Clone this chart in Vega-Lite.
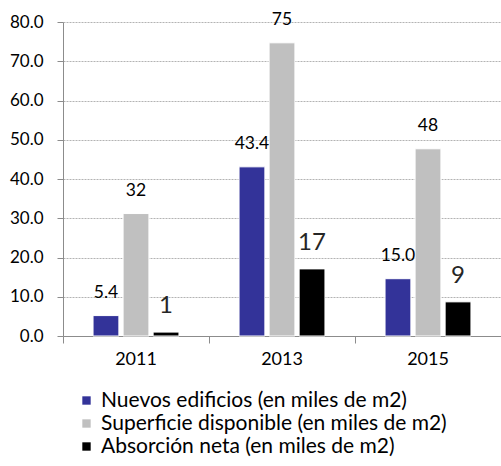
{
  "$schema": "https://vega.github.io/schema/vega-lite/v6.json",
  "width": 438,
  "height": 314,
  "autosize": "none",
  "padding": {"left": 63, "top": 22, "right": 0, "bottom": 130},
  "background": "white",
  "config": {
    "font": "Lato",
    "view": {"stroke": null}
  },
  "data": {
    "values": [
      {"year": "2011", "serie": "Nuevos edificios (en miles de m2)", "value": 5.2, "label": "5.4", "big": false},
      {"year": "2011", "serie": "Superficie disponible (en miles de m2)", "value": 31.2, "label": "32", "big": false},
      {"year": "2011", "serie": "Absorción neta (en miles de m2)", "value": 1.0, "label": "1", "big": true},
      {"year": "2013", "serie": "Nuevos edificios (en miles de m2)", "value": 43.1, "label": "43.4", "big": false},
      {"year": "2013", "serie": "Superficie disponible (en miles de m2)", "value": 74.7, "label": "75", "big": false},
      {"year": "2013", "serie": "Absorción neta (en miles de m2)", "value": 17.1, "label": "17", "big": true},
      {"year": "2015", "serie": "Nuevos edificios (en miles de m2)", "value": 14.6, "label": "15.0", "big": false},
      {"year": "2015", "serie": "Superficie disponible (en miles de m2)", "value": 47.7, "label": "48", "big": false},
      {"year": "2015", "serie": "Absorción neta (en miles de m2)", "value": 8.7, "label": "9", "big": true}
    ]
  },
  "encoding": {
    "x": {
      "field": "year",
      "type": "nominal",
      "scale": {"paddingInner": 0, "paddingOuter": 0},
      "axis": {
        "title": null,
        "labelAngle": 0,
        "labelFontSize": 18,
        "labelColor": "#000000",
        "labelPadding": 7,
        "tickSize": 7,
        "bandPosition": 0,
        "domainColor": "#8c8c8c",
        "tickColor": "#8c8c8c",
        "grid": false
      }
    },
    "xOffset": {
      "field": "serie",
      "type": "nominal",
      "sort": ["Nuevos edificios (en miles de m2)", "Superficie disponible (en miles de m2)", "Absorción neta (en miles de m2)"],
      "scale": {"paddingInner": 0.14, "paddingOuter": 1.45}
    },
    "y": {
      "field": "value",
      "type": "quantitative",
      "scale": {"domain": [0, 80], "nice": false},
      "axis": {
        "title": null,
        "values": [0, 10, 20, 30, 40, 50, 60, 70, 80],
        "format": ".1f",
        "labelFontSize": 17,
        "labelColor": "#000000",
        "labelPadding": 14,
        "tickSize": 6,
        "domainColor": "#8c8c8c",
        "tickColor": "#8c8c8c",
        "gridColor": "#a0a0a0",
        "gridDash": [2, 1],
        "gridWidth": 0.8
      }
    }
  },
  "layer": [
    {
      "mark": {"type": "bar", "stroke": "white", "strokeWidth": 1},
      "encoding": {
        "color": {
          "field": "serie",
          "type": "nominal",
          "scale": {
            "domain": ["Nuevos edificios (en miles de m2)", "Superficie disponible (en miles de m2)", "Absorción neta (en miles de m2)"],
            "range": ["#333399", "#c0c0c0", "#000000"]
          },
          "legend": {
            "title": null,
            "orient": "none",
            "legendX": 13,
            "legendY": 368,
            "direction": "vertical",
            "symbolType": "square",
            "symbolSize": 70,
            "symbolStrokeWidth": 0,
            "labelFontSize": 21,
            "labelColor": "#000000",
            "labelOffset": 4,
            "rowPadding": 1,
            "labelLimit": 430
          }
        }
      }
    },
    {
      "transform": [{"filter": "!datum.big"}],
      "mark": {"type": "text", "baseline": "alphabetic", "dy": -18, "fontSize": 17.5, "color": "#000000"},
      "encoding": {"text": {"field": "label"}}
    },
    {
      "transform": [{"filter": "datum.big"}],
      "mark": {"type": "text", "baseline": "alphabetic", "dy": -19, "fontSize": 24, "color": "#262626"},
      "encoding": {"text": {"field": "label"}}
    }
  ]
}
